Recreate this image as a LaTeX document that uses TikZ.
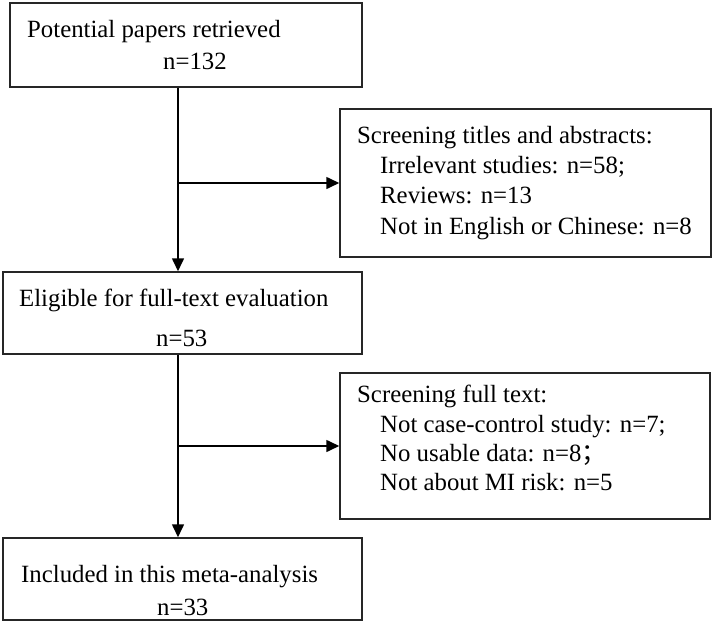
\documentclass[tikz,border=0pt]{standalone}
\usepackage{fontspec}
\setmainfont{Liberation Serif}
\newfontfamily\cjk{Noto Sans CJK SC}
\usetikzlibrary{arrows.meta}
\begin{document}
\begin{tikzpicture}[x=1pt,y=-1pt,
  boxst/.style={draw=black!85,line width=1.5pt,inner sep=0pt,rectangle},
  txt/.style={anchor=base west,inner sep=0pt,font=\fontsize{24.8}{30}\selectfont},
  arr/.style={line width=1.6pt,-{Triangle[length=13pt,width=12pt]}}]
\useasboundingbox (0,0) rectangle (713,624);
% boxes
\node[boxst,minimum width=352pt,minimum height=84pt] (b1) at (186,45) {};
\node[boxst,minimum width=371pt,minimum height=148pt] (b2) at (525.5,183) {};
\node[boxst,minimum width=359pt,minimum height=82pt] (b3) at (182.5,313) {};
\node[boxst,minimum width=370pt,minimum height=146pt] (b4) at (525,446) {};
\node[boxst,minimum width=359pt,minimum height=82pt] (b5) at (182.5,579) {};
% texts
\node[txt] (t1a) at (27,37) {Potential papers retrieved};
\node[txt] (t1b) at (163,69) {n=132};
\node[txt] (t2a) at (357,143) {Screening titles and abstracts:};
\node[txt] (t2b) at (380,173) {Irrelevant studies: n=58;};
\node[txt] (t2c) at (380,203) {Reviews: n=13};
\node[txt] (t2d) at (380,234) {Not in English or Chinese: n=8};
\node[txt] (t3a) at (19,306) {Eligible for full-text evaluation};
\node[txt] (t3b) at (156,346) {n=53};
\node[txt] (t4a) at (357,402) {Screening full text:};
\node[txt] (t4b) at (380,432) {Not case-control study: n=7;};
\node[txt] (t4c) at (380,461) {No usable data: n=8{\cjk ；}};
\node[txt] (t4d) at (380,490) {Not about MI risk: n=5};
\node[txt] (t5a) at (21,582) {Included in this meta-analysis};
\node[txt] (t5b) at (157,615) {n=33};
% connectors
\coordinate (cx) at (178,0);
\draw[arr] (b1.south -| cx) -- (b3.north -| cx);
\draw[arr] (cx |- b2.west) -- (b2.west);
\draw[arr] (b3.south -| cx) -- (b5.north -| cx);
\draw[arr] (cx |- b4.west) -- (b4.west);
\end{tikzpicture}
\end{document}
